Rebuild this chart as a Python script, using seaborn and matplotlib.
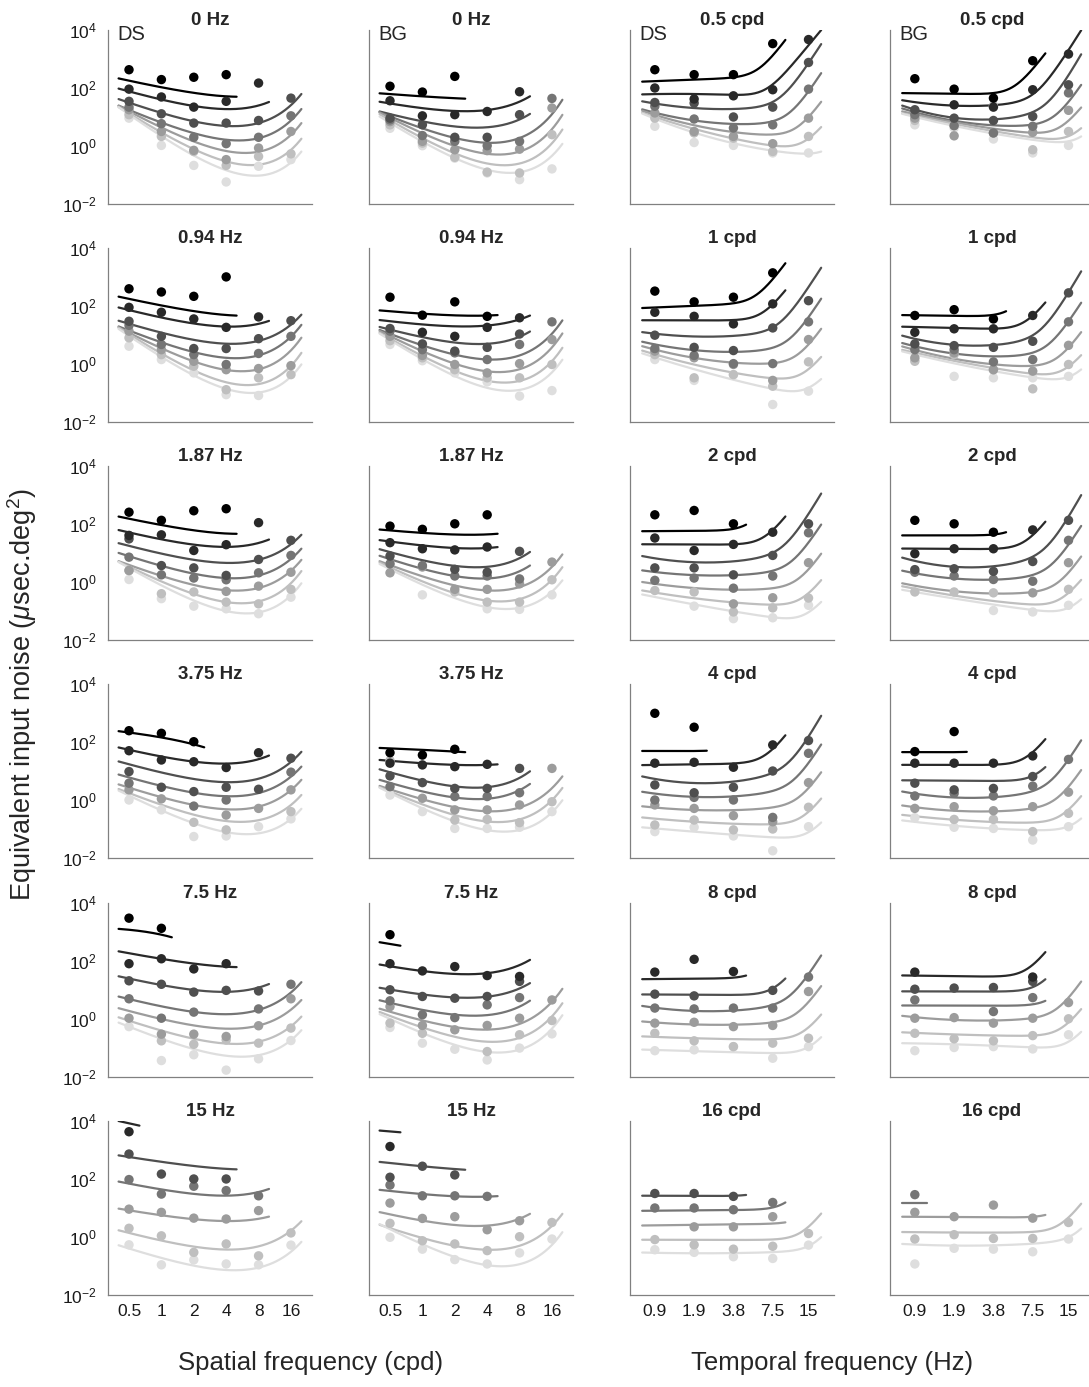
import numpy as np
import pandas as pd
import matplotlib
matplotlib.use("Agg")
import matplotlib.pyplot as plt
from matplotlib.ticker import NullLocator, FixedLocator, FixedFormatter
import seaborn as sns

sns.set_style("white")
plt.rcParams['font.family'] = ['Liberation Sans', 'DejaVu Sans']
plt.rcParams['mathtext.fontset'] = 'custom'
plt.rcParams['mathtext.rm'] = 'Liberation Sans'
plt.rcParams['mathtext.it'] = 'Liberation Sans:italic'

nan = float('nan')

# ---------------- axes / categories ----------------
SF = [0.5, 1, 2, 4, 8, 16]
SF_LABELS = ['0.5', '1', '2', '4', '8', '16']
TF = [0.9375, 1.875, 3.75, 7.5, 14.1]
TF_LABELS = ['0.9', '1.9', '3.8', '7.5', '15']
Y_TICKS = [1e-2, 1e0, 1e2, 1e4]
Y_LABELS = [r'$10^{-2}$', r'$10^{0}$', r'$10^{2}$', r'$10^{4}$']
SPATIAL_TITLES = ['0 Hz', '0.94 Hz', '1.87 Hz', '3.75 Hz', '7.5 Hz', '15 Hz']
TEMPORAL_TITLES = ['0.5 cpd', '1 cpd', '2 cpd', '4 cpd', '8 cpd', '16 cpd']
GRAY = [0.0, 0.16, 0.31, 0.46, 0.61, 0.75, 0.87]

# Data: log10 of equivalent input noise, per grey level (0 = black ... 6 = lightest).
# *_DOTS: measured points at each tick frequency.
# *_FIT : fitted model values at the tick frequencies the fit covers, followed by
#         the value at the right end of the fitted curve (last frequency x 1.25).

# ---- row 1 ----
DS_0HZ_DOTS = {0: [2.62, 2.28, 2.36, 2.45, nan, nan], 1: [1.95, 1.68, 1.33, 1.53, 2.16, nan],
               2: [1.53, 1.10, 0.78, 0.78, 0.87, 1.64], 3: [1.33, 0.76, 0.29, 0.07, 0.29, 1.03],
               4: [1.24, 0.49, -0.16, -0.48, -0.08, 0.49], 5: [1.07, 0.32, -0.20, -0.68, -0.37, -0.28],
               6: [0.95, 0.01, -0.68, -1.25, -0.71, -0.48]}
DS_0HZ_FIT = {0: [2.24, 2.02, 1.82, 1.70, 1.69], 1: [1.85, 1.62, 1.38, 1.26, 1.33, 1.55],
              2: [1.49, 1.13, 0.84, 0.69, 0.72, 1.53, 1.70], 3: [1.26, 0.78, 0.41, 0.21, 0.23, 0.99, 1.18],
              4: [1.22, 0.61, 0.11, -0.20, -0.20, 0.49, 0.69], 5: [1.13, 0.46, -0.14, -0.57, -0.66, -0.02, 0.15],
              6: [1.07, 0.34, -0.31, -0.89, -1.06, -0.46, -0.28]}
BG_0HZ_DOTS = {0: [2.05, 1.85, 2.39, nan, nan, nan], 1: [1.55, 1.03, 1.07, 1.18, 1.86, nan],
               2: [0.95, 0.72, 0.29, 0.29, 1.07, nan], 3: [0.89, 0.35, 0.15, 0.00, 0.15, 1.63],
               4: [0.83, 0.15, -0.14, -0.17, -0.12, 1.30], 5: [0.72, 0.09, -0.40, -0.91, -0.94, 0.38],
               6: [0.60, 0.00, -0.43, -0.94, -1.17, -0.80]}
BG_0HZ_FIT = {0: [1.78, 1.70, 1.64, 1.62], 1: [1.45, 1.30, 1.21, 1.21, 1.53, 1.70],
              2: [1.09, 0.84, 0.67, 0.61, 0.95, 1.07], 3: [1.03, 0.61, 0.23, 0.07, 0.26, 1.24, 1.47],
              4: [0.99, 0.44, -0.08, -0.29, -0.20, 0.72, 0.95], 5: [0.90, 0.26, -0.28, -0.66, -0.60, 0.21, 0.46],
              6: [0.80, 0.15, -0.46, -0.83, -0.94, -0.23, -0.02]}
DS_05CPD_DOTS = {0: [2.62, 2.45, 2.45, 3.52, nan], 1: [1.99, 1.61, 1.72, 1.93, 3.66],
                 2: [1.49, 1.47, 0.99, 1.33, 2.87], 3: [1.36, 0.92, 0.61, 0.72, 1.95],
                 4: [1.13, 0.49, 0.32, 0.07, 0.95], 5: [0.95, 0.44, 0.26, -0.20, 0.32],
                 6: [0.67, 0.11, 0.01, -0.25, -0.25]}
DS_05CPD_FIT = {0: [2.24, 2.25, 2.37, 3.10, 3.66], 1: [1.78, 1.78, 1.77, 2.07, 3.54, 3.94],
                2: [1.40, 1.38, 1.33, 1.38, 2.79, 3.60], 3: [1.10, 0.92, 0.80, 0.78, 1.76, 2.62],
                4: [1.05, 0.72, 0.49, 0.38, 0.90, 1.59], 5: [0.99, 0.57, 0.26, 0.01, 0.21, 0.67],
                6: [0.93, 0.46, 0.07, -0.16, -0.28, -0.20]}
BG_05CPD_DOTS = {0: [2.31, 1.95, 1.64, 2.93, nan], 1: [nan, 1.41, 1.33, 1.93, 3.16],
                 2: [1.24, 0.95, 0.87, 1.01, 2.10], 3: [1.07, 0.69, 0.44, 0.67, 1.82],
                 4: [0.95, 0.34, 0.44, 0.46, 1.22], 5: [0.87, 0.69, 1.38, -0.14, 0.49],
                 6: [0.72, 0.61, 0.23, -0.25, 0.01]}
BG_05CPD_FIT = {0: [1.82, 1.79, 1.82, 2.51, 3.31], 1: [1.47, 1.44, 1.41, 1.70, 3.31, 4.00],
                2: [1.15, 1.10, 1.01, 1.01, 2.16, 3.43], 3: [1.09, 0.95, 0.78, 0.67, 1.18, 2.39],
                4: [1.06, 0.84, 0.61, 0.46, 0.67, 1.47], 5: [1.02, 0.76, 0.49, 0.30, 0.32, 0.61],
                6: [0.99, 0.69, 0.41, 0.21, 0.15, 0.32]}

# ---- row 2 ----
DS_094HZ_DOTS = {0: [2.59, 2.48, 2.33, 3.00, nan, nan], 1: [1.95, 1.78, 1.55, 1.26, 1.62, nan],
                 2: [1.47, 0.95, 0.53, 0.53, 0.87, 1.49], 3: [1.33, 0.67, 0.32, -0.02, 0.36, 0.95],
                 4: [1.13, 0.49, 0.09, -0.20, -0.16, -0.06], 5: [0.90, 0.32, -0.08, -0.89, -0.48, -0.37],
                 6: [0.61, 0.15, -0.31, -1.06, -1.09, nan]}
DS_094HZ_FIT = {0: [2.24, 2.02, 1.82, 1.68, 1.67], 1: [1.84, 1.62, 1.41, 1.26, 1.38, 1.49],
                2: [1.38, 1.07, 0.84, 0.72, 0.76, 1.36, 1.70], 3: [1.18, 0.72, 0.38, 0.21, 0.32, 0.95, 1.33],
                4: [1.13, 0.49, 0.03, -0.20, -0.14, 0.49, 0.87], 5: [1.07, 0.32, -0.25, -0.66, -0.66, 0.00, 0.32],
                6: [1.01, 0.21, -0.43, -0.89, -0.94, -0.37, -0.08]}
BG_094HZ_DOTS = {0: [2.30, 1.68, 2.14, 1.64, nan, nan], 1: [nan, 1.09, 0.95, 1.26, 1.59, nan],
                 2: [1.22, 0.69, 0.44, 0.57, 1.03, nan], 3: [1.13, 0.49, 0.38, 0.15, 0.67, 1.45],
                 4: [0.95, 0.29, -0.02, -0.31, 0.01, 0.84], 5: [0.80, 0.21, -0.20, -0.48, -0.48, -0.02],
                 6: [0.67, 0.11, -0.31, -0.62, -1.11, -0.92]}
BG_094HZ_FIT = {0: [1.82, 1.72, 1.68, 1.67, 1.68], 1: [1.47, 1.36, 1.30, 1.32, 1.53, 1.67],
                2: [1.18, 0.92, 0.75, 0.69, 0.92, 1.13], 3: [1.07, 0.61, 0.29, 0.15, 0.32, 1.07, 1.47],
                4: [1.01, 0.38, -0.02, -0.25, -0.16, 0.61, 1.01], 5: [0.95, 0.21, -0.31, -0.60, -0.51, 0.15, 0.49],
                6: [0.90, 0.09, -0.48, -0.83, -0.83, -0.25, 0.09]}
DS_1CPD_DOTS = {0: [2.51, 2.14, 2.30, 3.14, nan], 1: [1.78, 1.64, 1.38, 2.07, nan],
                2: [0.99, 0.57, 0.46, 1.24, 2.18], 3: [0.53, 0.29, 0.01, 0.01, 1.45],
                4: [0.44, 0.21, -0.02, -0.57, 0.84], 5: [0.32, -0.48, -0.37, -0.77, 0.07],
                6: [0.15, -0.57, -0.37, -1.40, -0.94]}
DS_1CPD_FIT = {0: [1.95, 1.98, 2.10, 2.97, 3.43], 1: [1.51, 1.49, 1.53, 1.99, 2.59],
               2: [1.01, 0.99, 1.01, 1.18, 2.62, 3.37], 3: [0.63, 0.53, 0.47, 0.49, 1.47, 2.39],
               4: [0.47, 0.23, 0.09, 0.01, 0.49, 1.36], 5: [0.32, -0.02, -0.28, -0.46, -0.37, 0.38],
               6: [0.23, -0.20, -0.54, -0.83, -0.89, -0.48]}
BG_1CPD_DOTS = {0: [1.67, 1.87, 1.55, nan, nan], 1: [1.09, 1.21, 1.21, 1.67, nan],
                2: [0.69, 0.63, 0.57, 0.78, 2.45], 3: [0.49, 0.49, 0.07, 0.15, 1.45],
                4: [0.21, 0.38, -0.20, -0.25, 0.64], 5: [0.09, 0.32, -0.20, -0.86, -0.02],
                6: [0.15, -0.43, -0.48, -0.48, -0.43]}
BG_1CPD_FIT = {0: [1.67, 1.67, 1.68, 1.82], 1: [1.26, 1.26, 1.24, 1.53, 2.22],
               2: [0.80, 0.76, 0.72, 0.84, 2.39, 3.31], 3: [0.55, 0.44, 0.32, 0.30, 1.30, 2.28],
               4: [0.44, 0.23, 0.03, -0.08, 0.32, 1.30], 5: [0.38, 0.11, -0.14, -0.31, -0.20, 0.38],
               6: [0.32, 0.03, -0.25, -0.48, -0.43, -0.20]}

# ---- row 3 ----
DS_187HZ_DOTS = {0: [2.41, 2.13, 2.46, 2.53, nan, nan], 1: [1.61, 1.63, 1.09, 1.29, 2.05, nan],
                 2: [1.49, 0.57, 0.49, 0.23, 0.78, 1.44], 3: [0.86, 0.25, 0.14, 0.08, 0.32, 0.92],
                 4: [0.40, nan, nan, -0.32, -0.14, 0.34], 5: [0.40, -0.40, -0.34, -0.69, -0.75, -0.25],
                 6: [0.09, -0.57, -0.83, -0.92, -1.09, -0.52]}
DS_187HZ_FIT = {0: [2.18, 1.98, 1.78, 1.67, 1.67], 1: [1.70, 1.49, 1.30, 1.21, 1.32, 1.49],
                2: [1.24, 0.98, 0.78, 0.69, 0.75, 1.26, 1.67], 3: [0.90, 0.55, 0.29, 0.14, 0.23, 0.80, 1.15],
                4: [0.63, 0.17, -0.11, -0.29, -0.17, 0.40, 0.75], 5: [0.57, 0.00, -0.46, -0.69, -0.63, 0.00, 0.34],
                6: [0.52, -0.14, -0.67, -0.98, -1.03, -0.44, -0.06]}
BG_187HZ_DOTS = {0: [1.93, 1.82, 2.01, 2.32, nan, nan], 1: [1.36, 1.15, 1.11, 1.21, nan, nan],
                 2: [0.90, nan, 0.44, 0.34, 1.06, nan], 3: [0.63, 0.57, 0.21, 0.21, 0.11, nan],
                 4: [0.32, 0.52, -0.25, -0.25, -0.06, 0.69], 5: [nan, nan, -0.34, -0.69, -0.69, 0.08],
                 6: [0.63, -0.44, nan, -0.92, -0.94, -0.44]}
BG_187HZ_FIT = {0: [1.78, 1.70, 1.64, 1.64, 1.67], 1: [1.40, 1.26, 1.18, 1.17, 1.21],
                2: [1.03, 0.75, 0.57, 0.55, 0.75, 1.09], 3: [0.78, 0.46, 0.23, 0.14, 0.29, 0.63],
                4: [0.63, 0.17, -0.17, -0.29, -0.11, 0.52, 0.94], 5: [0.55, 0.00, -0.44, -0.63, -0.55, 0.11, 0.48],
                6: [0.48, -0.11, -0.60, -0.86, -0.86, -0.29, 0.02]}
DS_2CPD_DOTS = {0: [2.32, 2.47, 2.01, nan, nan], 1: [1.52, 1.09, 1.30, 1.72, nan],
                2: [0.49, 0.49, 0.25, 0.92, 2.01], 3: [0.06, 0.14, -0.21, 0.21, 1.70],
                4: [nan, nan, -0.75, -0.54, 0.67], 5: [-0.29, -0.34, -1.03, -0.89, -0.55],
                6: [nan, -0.83, -1.26, -1.23, -0.80]}
DS_2CPD_FIT = {0: [1.76, 1.76, 1.84, 1.98], 1: [1.30, 1.30, 1.32, 1.72, 2.32],
               2: [0.77, 0.76, 0.77, 0.92, 2.24, 3.18], 3: [0.31, 0.29, 0.29, 0.34, 1.21, 2.13],
               4: [-0.09, -0.17, -0.23, -0.21, 0.23, 1.15], 5: [-0.37, -0.55, -0.69, -0.75, -0.52, 0.17],
               6: [-0.52, -0.75, -1.03, -1.21, -1.03, -0.69]}
BG_2CPD_DOTS = {0: [2.13, 2.01, 1.72, nan, nan], 1: [0.98, 1.15, 1.15, 1.80, nan],
                2: [0.43, 0.46, 0.37, 0.71, 2.13], 3: [0.34, 0.21, 0.09, 0.03, 1.44],
                4: [nan, nan, nan, -0.37, 0.67], 5: [-0.34, -0.34, -0.37, nan, -0.25],
                6: [nan, nan, -0.98, -1.03, -0.80]}
BG_2CPD_FIT = {0: [1.61, 1.61, 1.64, 1.72], 1: [1.15, 1.15, 1.15, 1.61, 2.09],
               2: [0.66, 0.63, 0.63, 0.75, 2.07, 3.20], 3: [0.25, 0.20, 0.15, 0.17, 1.09, 2.13],
               4: [-0.17, -0.26, -0.34, -0.34, 0.00, 1.15], 5: [-0.25, -0.44, -0.63, -0.75, -0.57, 0.23],
               6: [-0.34, -0.57, -0.78, -0.94, -0.92, -0.57]}

# ---- row 4 ----
DS_375HZ_DOTS = {0: [2.40, 2.31, 2.02, nan, nan, nan], 1: [1.71, 1.39, 1.33, 1.13, 1.64, nan],
                 2: [0.99, 0.45, 0.30, 0.45, 0.38, 1.45], 3: [0.59, nan, -0.20, 0.01, nan, 0.97],
                 4: [0.36, 0.05, nan, -0.51, -0.28, 0.36], 5: [nan, nan, -0.76, -1.02, nan, -0.39],
                 6: [0.01, -0.33, -1.25, -1.23, -0.91, -0.64]}
DS_375HZ_FIT = {0: [2.34, 2.16, 1.94, 1.82], 1: [1.74, 1.51, 1.33, 1.28, 1.39, 1.56],
                2: [1.22, 0.97, 0.76, 0.64, 0.72, 1.28, 1.71], 3: [0.79, 0.49, 0.26, 0.15, 0.24, 0.82, 1.16],
                4: [0.44, 0.10, -0.16, -0.31, -0.22, 0.36, 0.70], 5: [0.26, -0.16, -0.51, -0.71, -0.68, -0.16, 0.18],
                6: [0.15, -0.33, -0.79, -1.10, -1.14, -0.66, -0.28]}
BG_375HZ_DOTS = {0: [1.64, 1.56, 1.76, nan, nan, nan], 1: [1.28, 1.22, 1.16, 1.24, nan, nan],
                 2: [0.84, 0.61, 0.41, 0.41, 1.10, nan], 3: [0.47, nan, 0.13, 0.13, 0.26, nan],
                 4: [nan, 0.07, -0.33, -0.33, -0.16, 1.10], 5: [1.37, nan, -0.68, -0.66, -0.77, -0.05],
                 6: [0.18, -0.39, -0.97, -0.97, -0.93, -0.39]}
BG_375HZ_FIT = {0: [1.79, 1.74, 1.68, 1.66], 1: [1.36, 1.28, 1.22, 1.22, 1.24],
                2: [0.93, 0.70, 0.53, 0.47, 0.59, 1.13], 3: [0.59, 0.30, 0.13, 0.07, 0.24, 0.64],
                4: [0.41, 0.01, -0.28, -0.36, -0.22, 0.41, 0.82], 5: [0.33, -0.16, -0.54, -0.74, -0.62, 0.01, 0.41],
                6: [0.26, -0.28, -0.74, -1.02, -1.02, -0.43, 0.01]}
DS_4CPD_DOTS = {0: [3.00, 2.52, nan, nan, nan], 1: [1.28, 1.31, 1.14, 1.91, nan],
                2: [0.53, 0.26, 0.45, 1.01, 2.06], 3: [0.01, 0.10, 0.01, -0.59, 1.62],
                4: [-0.16, -0.28, -0.53, -0.74, 0.61], 5: [-0.85, -0.68, -1.02, -0.99, -0.24],
                6: [-1.08, -0.93, -1.23, -1.74, -0.91]}
DS_4CPD_FIT = {0: [1.70, 1.70, 1.71], 1: [1.22, 1.24, 1.28, 1.71, 2.29],
               2: [0.68, 0.68, 0.70, 0.87, 2.02, 3.09], 3: [0.18, 0.18, 0.21, 0.26, 1.05, 2.14],
               4: [-0.28, -0.30, -0.30, -0.24, 0.18, 1.16], 5: [-0.64, -0.74, -0.79, -0.79, -0.56, 0.18],
               6: [-0.97, -1.08, -1.20, -1.25, -1.14, -0.74]}
BG_4CPD_DOTS = {0: [1.68, 2.37, nan, nan, nan], 1: [1.28, 1.28, 1.28, 1.53, nan],
                2: [0.59, 0.36, 0.41, 0.82, nan], 3: [0.15, 0.24, 0.15, 0.49, 1.41],
                4: [-0.28, -0.22, -0.36, -0.22, 0.28], 5: [nan, -0.66, -0.66, -1.08, -0.45],
                6: [-0.60, -0.93, -0.97, -1.37, -0.91]}
BG_4CPD_FIT = {0: [1.66, 1.66, 1.67], 1: [1.22, 1.22, 1.24, 1.62, 2.14],
               2: [0.68, 0.68, 0.68, 0.82, 1.16], 3: [0.18, 0.16, 0.18, 0.24, 1.22, 2.25],
               4: [-0.28, -0.31, -0.33, -0.28, 0.18, 1.28], 5: [-0.56, -0.66, -0.74, -0.74, -0.45, 0.24],
               6: [-0.74, -0.89, -0.97, -1.02, -0.91, -0.62]}

# ---- row 5 ----
DS_75HZ_DOTS = {0: [3.46, 3.11, nan, nan, nan, nan], 1: [1.89, 2.06, 1.71, 1.89, nan, nan],
                2: [1.30, 1.18, 0.91, 0.97, 0.95, nan], 3: [0.68, 0.01, 0.22, nan, 0.33, 1.18],
                4: [0.01, -0.54, -0.54, -0.62, -0.25, 0.68], 5: [nan, -0.77, -0.89, -0.74, -0.85, -0.33],
                6: [-0.28, -1.45, -1.25, -1.78, -1.39, -0.76]}
DS_75HZ_FIT = {0: [3.06, 2.89, 2.80], 1: [2.25, 2.06, 1.89, 1.79, 1.77],
               2: [1.37, 1.16, 0.99, 0.93, 1.02, 1.22], 3: [0.64, 0.45, 0.24, 0.15, 0.30, 0.82, 1.31],
               4: [0.24, 0.01, -0.24, -0.36, -0.22, 0.24, 0.68], 5: [-0.10, -0.39, -0.70, -0.85, -0.79, -0.36, 0.13],
               6: [-0.33, -0.64, -1.05, -1.29, -1.25, -0.85, -0.33]}
BG_75HZ_DOTS = {0: [2.89, nan, nan, nan, nan, nan], 1: [1.89, 1.64, 1.79, 1.48, 1.45, nan],
                2: [0.99, 0.76, 0.70, 0.76, 1.28, nan], 3: [0.61, 0.13, 0.03, 0.47, 0.72, nan],
                4: [0.41, -0.24, -0.39, -0.24, 0.01, 0.64], 5: [-0.16, -0.51, nan, -1.14, -0.56, -0.07],
                6: [-0.31, -0.85, -1.06, -1.43, -1.02, -0.53]}
BG_75HZ_FIT = {0: [2.57, 2.51], 1: [1.79, 1.64, 1.56, 1.56, 1.79, 2.06],
               2: [0.99, 0.82, 0.76, 0.76, 0.95, 1.28], 3: [0.53, 0.30, 0.15, 0.13, 0.33, 0.67],
               4: [0.26, -0.08, -0.33, -0.39, -0.16, 0.61, 0.99], 5: [0.13, -0.33, -0.68, -0.82, -0.62, 0.13, 0.47],
               6: [0.01, -0.51, -0.93, -1.20, -1.02, -0.31, 0.07]}
DS_8CPD_DOTS = {1: [1.60, 2.04, 1.62, nan, nan], 2: [0.84, 0.78, nan, 0.97, nan],
                3: [0.36, 0.33, 0.36, 0.36, 1.43], 4: [-0.16, -0.13, -0.28, -0.24, 0.93],
                5: [-0.51, -0.77, -0.97, -0.85, -0.68], 6: [-1.11, -1.08, -0.97, -1.37, -0.97]}
DS_8CPD_FIT = {1: [1.36, 1.37, 1.41, 1.48], 2: [0.82, 0.82, 0.84, 0.99, 1.41],
               3: [0.33, 0.32, 0.32, 0.41, 1.39, 2.31], 4: [-0.16, -0.18, -0.18, -0.14, 0.41, 1.25],
               5: [-0.64, -0.68, -0.70, -0.68, -0.45, 0.24], 6: [-1.08, -1.14, -1.16, -1.17, -1.02, -0.62]}
BG_8CPD_DOTS = {1: [1.60, nan, nan, 1.43, nan], 2: [1.01, 1.05, 1.07, 1.28, nan],
                3: [0.64, nan, 0.24, 0.72, nan], 4: [0.01, 0.03, -0.16, 0.01, 0.55],
                5: [-0.51, -0.70, -0.77, -0.59, -0.01], 6: [-1.11, -1.00, -0.97, -1.05, -0.56]}
BG_8CPD_FIT = {1: [1.47, 1.47, 1.48, 1.74, 2.37], 2: [0.93, 0.93, 0.95, 1.05, 1.37],
               3: [0.45, 0.44, 0.44, 0.49, 0.61], 4: [0.01, -0.01, -0.02, 0.01, 0.47, 1.48],
               5: [-0.51, -0.54, -0.56, -0.56, -0.33, 0.47], 6: [-0.85, -0.91, -0.93, -0.97, -0.85, -0.43]}

# ---- row 6 ----
DS_15HZ_DOTS = {1: [3.62, nan, nan, nan, nan, nan], 2: [2.85, 2.16, 1.99, 1.99, nan, nan],
                3: [1.97, 1.47, 1.74, 1.59, 1.41, nan], 4: [0.95, 0.84, 0.64, 0.61, 0.90, nan],
                5: [0.29, 0.03, -0.54, -0.25, -0.66, 0.13], 6: [-0.28, -0.97, -0.80, -0.94, -0.97, -0.29]}
DS_15HZ_FIT = {1: [3.91, 3.83], 2: [2.74, 2.60, 2.43, 2.33, 2.33],
               3: [1.82, 1.64, 1.49, 1.41, 1.51, 1.67], 4: [0.90, 0.75, 0.61, 0.53, 0.61, 0.70],
               5: [0.09, -0.11, -0.29, -0.43, -0.40, 0.21, 0.55], 6: [-0.43, -0.71, -0.98, -1.15, -1.09, -0.52, -0.17]}
BG_15HZ_DOTS = {1: [3.11, nan, nan, nan, nan, nan], 2: [2.05, 2.43, 2.13, nan, nan, nan],
                3: [1.78, 1.41, 1.41, 1.39, nan, nan], 4: [1.16, 0.63, 0.69, 0.24, 0.55, nan],
                5: [0.46, -0.14, -0.25, -0.48, 0.00, 0.49], 6: [-0.02, -0.43, -0.79, -0.94, -0.56, -0.08]}
BG_15HZ_FIT = {1: [3.63, 3.60], 2: [2.54, 2.43, 2.33, 2.31], 3: [1.59, 1.44, 1.41, 1.39, 1.39],
               4: [0.76, 0.55, 0.44, 0.38, 0.55, 0.84], 5: [0.32, -0.08, -0.33, -0.43, -0.31, 0.38, 0.78],
               6: [0.26, -0.25, -0.71, -1.00, -0.94, -0.25, 0.13]}
DS_16CPD_DOTS = {2: [1.49, 1.49, 1.39, nan, nan], 3: [0.99, 0.99, 0.93, 1.18, nan],
                 4: [nan, 0.34, 0.34, 0.69, nan], 5: [-0.10, -0.28, -0.43, -0.33, 0.11],
                 6: [-0.45, -0.54, -0.69, -0.75, -0.29]}
DS_16CPD_FIT = {2: [1.41, 1.41, 1.41, 1.44], 3: [0.90, 0.90, 0.92, 1.01, 1.18],
                4: [0.40, 0.40, 0.41, 0.47, 0.49], 5: [-0.11, -0.11, -0.10, -0.08, 0.26, 0.86],
                6: [-0.56, -0.56, -0.57, -0.54, -0.31, -0.02]}
BG_16CPD_DOTS = {3: [1.45, nan, nan, nan, nan], 4: [0.84, 0.69, 1.09, 0.64, nan],
                 5: [-0.08, 0.07, -0.06, -0.06, 0.49], 6: [-0.94, -0.40, -0.43, -0.52, -0.08]}
BG_16CPD_FIT = {3: [1.15, 1.15], 4: [0.69, 0.67, 0.67, 0.69, 0.75],
                5: [0.15, 0.15, 0.15, 0.17, 0.61, 1.18], 6: [-0.28, -0.29, -0.29, -0.28, 0.03, 0.26]}

SPATIAL_PANELS = [
    (DS_0HZ_DOTS, DS_0HZ_FIT, BG_0HZ_DOTS, BG_0HZ_FIT),
    (DS_094HZ_DOTS, DS_094HZ_FIT, BG_094HZ_DOTS, BG_094HZ_FIT),
    (DS_187HZ_DOTS, DS_187HZ_FIT, BG_187HZ_DOTS, BG_187HZ_FIT),
    (DS_375HZ_DOTS, DS_375HZ_FIT, BG_375HZ_DOTS, BG_375HZ_FIT),
    (DS_75HZ_DOTS, DS_75HZ_FIT, BG_75HZ_DOTS, BG_75HZ_FIT),
    (DS_15HZ_DOTS, DS_15HZ_FIT, BG_15HZ_DOTS, BG_15HZ_FIT),
]
TEMPORAL_PANELS = [
    (DS_05CPD_DOTS, DS_05CPD_FIT, BG_05CPD_DOTS, BG_05CPD_FIT),
    (DS_1CPD_DOTS, DS_1CPD_FIT, BG_1CPD_DOTS, BG_1CPD_FIT),
    (DS_2CPD_DOTS, DS_2CPD_FIT, BG_2CPD_DOTS, BG_2CPD_FIT),
    (DS_4CPD_DOTS, DS_4CPD_FIT, BG_4CPD_DOTS, BG_4CPD_FIT),
    (DS_8CPD_DOTS, DS_8CPD_FIT, BG_8CPD_DOTS, BG_8CPD_FIT),
    (DS_16CPD_DOTS, DS_16CPD_FIT, BG_16CPD_DOTS, BG_16CPD_FIT),
]

# ---------------- model curves ----------------
EXT = 1.25


def model_curve(ticks, readings, kind):
    n = len(readings)
    i_last = n - 2
    fa = np.array(list(ticks[:i_last + 1]) + [ticks[i_last] * EXT], float)
    y = np.asarray(readings, float)
    X = np.log10(fa)
    fg = np.geomspace(ticks[0] / EXT, ticks[i_last] * EXT, 160)
    Xg = np.log10(fg)
    if n == 2:
        sl = (y[1] - y[0]) / (X[1] - X[0])
        yg = y[0] + sl * (Xg - X[0])
    elif kind == 'spatial':
        A = np.column_stack([np.ones(n), X, fa])
        coef = np.linalg.lstsq(A, y, rcond=None)[0]
        yg = coef[0] + coef[1] * Xg + coef[2] * fg
    else:
        best = None
        for fc in np.geomspace(1.5, 400, 600):
            rise = np.log10(1 + (fa / fc) ** 6)
            cols = [np.ones(n), X] + ([X ** 2] if n >= 6 else [])
            A = np.column_stack(cols)
            coef = np.linalg.lstsq(A, y - rise, rcond=None)[0]
            sse = float(np.sum((A @ coef + rise - y) ** 2))
            if best is None or sse < best[0]:
                best = (sse, fc, coef)
        _, fc, coef = best
        base = coef[0] + coef[1] * Xg + (coef[2] * Xg ** 2 if len(coef) > 2 else 0.0)
        yg = base + np.log10(1 + (fg / fc) ** 6)
    return fg, 10 ** yg


PALETTE = {i: (g, g, g) for i, g in enumerate(GRAY)}

fig = plt.figure(figsize=(10.89, 13.87), dpi=100)
W, H = 1089.0, 1387.0
COL_LEFT = [108, 369, 630, 890]
AX_W, AX_H = 204, 174
SF_LIM = (0.319, 25.1)
TF_LIM = (0.605, 22.1)
AXC = '#808080'


def draw_panel(ax, ticks, dots, fits, kind):
    ax.set_xscale('log')
    ax.set_yscale('log')
    recs = []
    for lvl, vals in dots.items():
        for f, v in zip(ticks, vals):
            if not np.isnan(v):
                recs.append((f, 10 ** v, lvl))
    ddf = pd.DataFrame(recs, columns=['f', 'N', 'level']).sort_values('level', ascending=False, kind='stable')
    lrecs = []
    for lvl, rd in fits.items():
        fg, ng = model_curve(ticks, rd, kind)
        for f, v in zip(fg, ng):
            lrecs.append((f, v, lvl))
    ldf = pd.DataFrame(lrecs, columns=['f', 'N', 'level'])
    sns.lineplot(data=ldf, x='f', y='N', hue='level', palette=PALETTE, estimator=None,
                 sort=False, legend=False, ax=ax, linewidth=1.6, zorder=2)
    sns.scatterplot(data=ddf, x='f', y='N', hue='level', palette=PALETTE, s=46,
                    linewidth=0, legend=False, ax=ax, zorder=3)
    ax.set_xlabel('')
    ax.set_ylabel('')


for r in range(6):
    top = 29.7 + 218.2 * r
    for c in range(4):
        rect = [COL_LEFT[c] / W, 1 - (top + AX_H) / H, AX_W / W, AX_H / H]
        ax = fig.add_axes(rect)
        if c < 2:
            dots, fits = SPATIAL_PANELS[r][2 * c], SPATIAL_PANELS[r][2 * c + 1]
            draw_panel(ax, SF, dots, fits, 'spatial')
            ax.set_xlim(*SF_LIM)
            ticks, labels, title = SF, SF_LABELS, SPATIAL_TITLES[r]
        else:
            cc = c - 2
            dots, fits = TEMPORAL_PANELS[r][2 * cc], TEMPORAL_PANELS[r][2 * cc + 1]
            draw_panel(ax, TF, dots, fits, 'temporal')
            ax.set_xlim(*TF_LIM)
            ticks, labels, title = TF, TF_LABELS, TEMPORAL_TITLES[r]
        ax.set_ylim(1e-2, 1e4)
        ax.xaxis.set_major_locator(FixedLocator(ticks))
        ax.xaxis.set_minor_locator(NullLocator())
        ax.yaxis.set_major_locator(FixedLocator(Y_TICKS))
        ax.yaxis.set_minor_locator(NullLocator())
        ax.xaxis.set_major_formatter(FixedFormatter(labels if r == 5 else [''] * len(ticks)))
        ax.yaxis.set_major_formatter(FixedFormatter(Y_LABELS if c == 0 else [''] * 4))
        ax.tick_params(axis='both', which='major', direction='in', length=3.2, width=0.8,
                       color=AXC, labelcolor='#1a1a1a', labelsize=12.5)
        ax.tick_params(axis='x', pad=7)
        ax.tick_params(axis='y', pad=8)
        for s in ['top', 'right']:
            ax.spines[s].set_visible(False)
        for s in ['left', 'bottom']:
            ax.spines[s].set_color(AXC)
            ax.spines[s].set_linewidth(0.9)
        ax.set_facecolor('none')
        ax.set_title(title, fontsize=13.5, fontweight='bold', pad=3.5)
        if r == 0:
            ax.text(0.044, 0.975, 'DS' if c % 2 == 0 else 'BG', transform=ax.transAxes,
                    fontsize=14.5, va='center', ha='left')

fig.text(311 / W, 1 - 1363 / H, 'Spatial frequency (cpd)', ha='center', va='center', fontsize=18.5)
fig.text(832 / W, 1 - 1363 / H, 'Temporal frequency (Hz)', ha='center', va='center', fontsize=18.5)
fig.text(22 / W, 1 - 695 / H, r'Equivalent input noise ($\mu$sec.deg$^2$)', ha='center', va='center',
         rotation=90, fontsize=19.5)

fig.savefig('out.png', dpi=100)
